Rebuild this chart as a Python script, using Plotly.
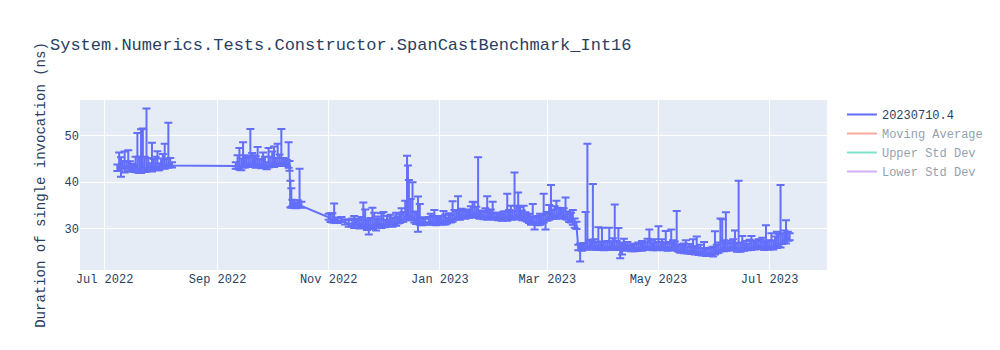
import plotly.graph_objects as go

# ---------------- data ----------------
dates_a = ["2022-07-08","2022-07-09","2022-07-10","2022-07-11","2022-07-12","2022-07-13","2022-07-14","2022-07-15",
           "2022-07-16","2022-07-17","2022-07-18","2022-07-19","2022-07-20","2022-07-21","2022-07-22","2022-07-23",
           "2022-07-24","2022-07-25","2022-07-26","2022-07-27","2022-07-28","2022-07-29","2022-07-30","2022-07-31",
           "2022-08-01","2022-08-02","2022-08-03","2022-08-04","2022-08-05","2022-08-06","2022-08-07"]
vals_a = [43.0,43.2,42.9,43.4,43.1,43.6,43.3,43.0,43.2,42.8,43.5,43.0,42.6,42.8,43.4,42.9,
          43.1,43.5,43.2,43.0,43.6,43.3,43.4,43.1,43.8,43.5,43.6,43.9,43.7,44.0,43.6]
up_a = [0.8,3.2,2.5,1.2,3.5,0.9,3.6,1.5,0.8,0.9,2.0,7.6,2.9,8.6,8.2,2.6,
        12.8,1.7,0.9,5.5,1.4,2.2,3.3,1.0,1.3,2.6,4.7,1.1,9.1,1.2,0.7]
dn_a = [0.6,0.8,1.7,0.5,1.0,0.6,0.9,0.7,0.5,0.6,0.8,0.9,0.6,0.8,1.2,0.7,
        0.8,0.9,0.6,0.7,0.6,0.5,0.8,0.5,0.6,0.5,0.7,0.6,0.6,0.5,0.4]

dates_b = ["2022-09-11","2022-09-12","2022-09-13","2022-09-14","2022-09-15","2022-09-16","2022-09-17","2022-09-18",
           "2022-09-19","2022-09-20","2022-09-21","2022-09-22","2022-09-23","2022-09-24","2022-09-25","2022-09-26",
           "2022-09-27","2022-09-28","2022-09-29","2022-09-30","2022-10-01","2022-10-02","2022-10-03","2022-10-04",
           "2022-10-05","2022-10-06","2022-10-07","2022-10-08","2022-10-09","2022-10-10","2022-10-10 12:00"]
vals_b = [43.5,43.8,43.3,43.6,43.9,43.7,44.0,43.8,44.1,43.9,44.2,43.7,44.0,43.9,43.5,43.8,
          43.6,43.4,43.7,43.9,44.1,43.8,44.0,44.2,44.0,44.3,44.1,44.2,44.0,43.8,44.0]
up_b = [0.8,2.0,4.1,1.5,4.7,2.1,1.3,1.8,7.4,2.4,1.6,1.9,3.6,1.1,1.4,2.6,
        1.9,0.9,3.7,1.6,2.5,3.9,1.2,4.1,2.0,7.2,1.1,0.9,0.8,4.8,0.6]
dn_b = [0.6,0.9,0.6,1.0,0.7,0.5,0.6,0.5,0.6,0.6,0.5,0.6,0.7,0.4,0.5,0.6,
        0.5,0.6,0.5,0.4,0.6,0.5,0.5,0.6,0.4,0.5,0.6,0.5,0.5,0.7,1.5]

dates_c = ["2022-10-11","2022-10-11 12:00","2022-10-12","2022-10-13","2022-10-14","2022-10-15","2022-10-16","2022-10-17"]
vals_c = [35.2,35.0,35.4,35.1,34.9,35.2,35.3,34.9]
up_c = [5.1,3.7,0.8,1.0,0.7,0.9,7.6,0.9]
dn_c = [0.6,0.5,0.6,0.6,0.5,0.5,0.7,0.4]

dates_nov = ["2022-11-01","2022-11-02","2022-11-03","2022-11-04","2022-11-05","2022-11-06","2022-11-08","2022-11-10",
             "2022-11-12","2022-11-14","2022-11-15","2022-11-16","2022-11-17","2022-11-18","2022-11-19","2022-11-20",
             "2022-11-21","2022-11-22","2022-11-23","2022-11-24","2022-11-25","2022-11-26","2022-11-27","2022-11-28",
             "2022-11-29","2022-11-30"]
vals_nov = [32.4,32.0,31.8,31.9,31.6,31.7,31.8,31.4,31.0,31.2,30.8,31.1,30.7,31.0,30.9,31.2,
            30.8,30.6,30.9,30.5,30.8,31.0,30.6,30.9,31.2,30.7]
up_nov = [0.8,1.3,1.5,3.5,0.8,0.6,0.7,0.6,0.8,1.0,1.9,0.9,1.4,0.8,1.6,4.4,
          3.3,1.2,1.1,1.8,3.7,2.4,1.5,1.7,0.9,2.6]
dn_nov = [0.5,0.6,0.5,0.6,0.4,0.5,0.4,0.5,0.6,0.5,0.7,0.5,0.6,1.0,0.5,0.6,
          0.7,0.9,2.2,0.6,0.8,0.7,1.0,0.6,0.5,0.6]

dates_dec = ["2022-12-01","2022-12-02","2022-12-03","2022-12-04","2022-12-05","2022-12-06","2022-12-07","2022-12-08",
             "2022-12-09","2022-12-10","2022-12-11","2022-12-12","2022-12-13","2022-12-14","2022-12-14 12:00","2022-12-15",
             "2022-12-16","2022-12-17","2022-12-18","2022-12-19","2022-12-20","2022-12-21","2022-12-22","2022-12-23",
             "2022-12-24","2022-12-26","2022-12-27","2022-12-28","2022-12-29","2022-12-30","2022-12-31"]
vals_dec = [31.0,30.8,31.3,31.0,31.4,31.1,31.5,31.2,31.6,31.8,32.2,32.0,32.6,32.8,33.0,32.5,
            32.9,32.4,31.9,31.5,31.6,31.4,31.2,31.5,31.3,31.4,31.6,31.3,31.5,31.2,31.6]
up_dec = [2.6,1.1,1.4,0.8,1.6,1.2,0.9,2.2,1.0,1.3,2.2,1.6,3.4,12.9,10.6,8.0,
          3.5,7.6,1.8,2.0,5.3,3.9,1.2,0.9,0.8,1.1,1.6,1.4,2.5,1.0,0.9]
dn_dec = [0.6,0.5,0.6,0.5,0.4,0.7,0.5,0.6,0.5,0.6,0.7,0.5,0.6,0.8,0.6,0.7,
          0.6,0.6,0.6,0.5,2.3,0.6,0.5,0.6,0.5,0.5,0.6,0.5,0.6,0.5,0.4]

dates_jan = ["2023-01-01","2023-01-02","2023-01-03","2023-01-04","2023-01-05","2023-01-06","2023-01-07","2023-01-08",
             "2023-01-09","2023-01-10","2023-01-11","2023-01-12","2023-01-13","2023-01-14","2023-01-15","2023-01-16",
             "2023-01-17","2023-01-18","2023-01-19","2023-01-20","2023-01-21","2023-01-22","2023-01-23","2023-01-24",
             "2023-01-25","2023-01-26","2023-01-27","2023-01-28","2023-01-29","2023-01-30","2023-01-31"]
vals_jan = [31.4,31.7,31.5,31.8,31.6,32.0,31.9,32.1,32.4,32.6,32.7,32.5,32.9,33.0,32.6,33.2,
            32.8,33.1,33.3,32.9,33.2,33.0,32.7,32.9,32.6,32.8,32.5,32.9,32.7,32.6,32.4]
up_jan = [1.3,1.0,2.3,1.2,0.8,1.3,1.1,3.8,1.6,1.2,4.3,1.5,1.4,1.0,1.1,0.9,
          1.2,1.7,2.5,2.8,1.5,12.4,1.2,0.9,1.0,1.6,4.5,1.1,1.4,3.2,0.9]
dn_jan = [0.5,0.6,0.6,0.9,0.5,0.6,0.6,0.6,0.5,0.6,0.7,0.6,0.5,0.6,0.5,0.6,
          0.5,0.6,0.6,0.5,0.6,0.7,0.6,0.5,0.6,0.5,0.6,0.5,0.6,0.5,0.5]

dates_feb = ["2023-02-01","2023-02-02","2023-02-03","2023-02-04","2023-02-05","2023-02-06","2023-02-07","2023-02-08",
             "2023-02-09","2023-02-10","2023-02-11","2023-02-12","2023-02-13","2023-02-14","2023-02-15","2023-02-16",
             "2023-02-17","2023-02-18","2023-02-19","2023-02-20","2023-02-21","2023-02-22","2023-02-23","2023-02-24",
             "2023-02-25","2023-02-26","2023-02-27","2023-02-28"]
vals_feb = [32.6,32.3,32.5,32.2,32.4,32.6,32.3,32.5,32.8,32.4,32.7,32.9,32.6,32.8,32.4,32.6,
            32.3,32.0,31.8,31.5,31.6,31.3,31.5,31.2,31.4,31.6,31.9,31.6]
up_feb = [0.8,1.1,0.7,0.9,1.3,1.1,5.2,1.5,2.1,1.4,9.4,2.0,5.2,1.8,1.5,2.3,
          1.2,1.0,1.4,1.1,3.7,1.2,0.9,1.5,1.8,1.3,5.6,1.6]
dn_feb = [0.6,0.5,0.4,0.5,0.6,0.5,0.6,0.5,0.6,0.5,0.6,0.7,0.6,0.5,0.6,0.5,
          0.6,0.5,0.6,0.7,0.6,1.5,0.6,0.5,0.6,0.5,0.6,1.8]

dates_mar = ["2023-03-01","2023-03-02","2023-03-03","2023-03-04","2023-03-05","2023-03-06","2023-03-07","2023-03-08",
             "2023-03-09","2023-03-10","2023-03-11","2023-03-12","2023-03-13","2023-03-14","2023-03-15","2023-03-16",
             "2023-03-17","2023-03-18","2023-03-19","2023-03-20","2023-03-21","2023-03-22","2023-03-23","2023-03-24",
             "2023-03-25","2023-03-26","2023-03-27","2023-03-28","2023-03-29","2023-03-30","2023-03-31"]
vals_mar = [32.2,32.5,32.8,32.6,33.0,32.7,33.1,32.8,33.2,32.9,32.6,32.4,32.0,31.8,31.4,31.0,
            30.6,25.8,26.0,25.7,26.1,26.3,26.2,26.0,26.4,26.1,26.3,26.0,26.4,26.2,26.0]
up_mar = [1.4,2.6,6.6,1.5,1.8,3.3,1.4,1.6,1.2,1.5,4.1,1.3,1.1,1.6,2.6,1.2,
          0.9,0.7,0.8,1.0,0.8,7.3,22.1,1.5,1.2,13.5,1.4,1.1,3.9,1.0,4.2]
dn_mar = [0.5,0.6,0.7,0.5,0.6,0.6,0.5,0.6,0.5,0.6,0.6,0.5,0.6,0.5,0.6,0.8,
          0.7,0.5,3.1,0.5,0.6,0.6,0.7,0.5,0.6,0.6,0.5,0.6,0.6,0.5,0.6]

dates_apr = ["2023-04-01","2023-04-02","2023-04-03","2023-04-04","2023-04-05","2023-04-06","2023-04-07","2023-04-08",
             "2023-04-09","2023-04-10","2023-04-11","2023-04-12","2023-04-13","2023-04-14","2023-04-15","2023-04-16",
             "2023-04-17","2023-04-18","2023-04-19","2023-04-20","2023-04-21","2023-04-22","2023-04-23","2023-04-24",
             "2023-04-25","2023-04-26","2023-04-27","2023-04-28","2023-04-29","2023-04-30"]
vals_apr = [25.8,26.1,25.9,26.2,26.0,26.3,26.1,25.9,26.2,25.8,25.9,26.0,25.7,26.1,25.8,25.5,
            25.8,25.6,25.9,25.7,26.0,25.8,26.1,25.9,26.2,25.9,26.1,25.8,26.0,25.8]
up_apr = [1.3,1.0,1.4,4.0,1.2,1.6,9.1,1.4,3.9,1.2,0.9,1.8,0.8,1.0,0.7,0.9,
          0.8,1.1,0.9,1.3,0.8,1.5,1.0,1.2,1.6,3.9,1.4,1.1,1.7,1.3]
dn_apr = [0.5,0.6,0.5,0.6,0.6,0.5,0.6,0.5,0.6,2.2,1.5,0.5,0.5,0.6,0.5,0.4,
          0.5,0.5,0.6,0.5,0.5,0.6,0.5,0.5,0.6,0.5,0.6,0.5,0.6,0.5]

dates_may = ["2023-05-01","2023-05-02","2023-05-03","2023-05-04","2023-05-05","2023-05-06","2023-05-07","2023-05-08",
             "2023-05-09","2023-05-10","2023-05-11","2023-05-12","2023-05-13","2023-05-14","2023-05-15","2023-05-16",
             "2023-05-17","2023-05-18","2023-05-19","2023-05-20","2023-05-21","2023-05-22","2023-05-23","2023-05-24",
             "2023-05-25","2023-05-26","2023-05-27","2023-05-28","2023-05-29","2023-05-30","2023-05-31"]
vals_may = [26.1,25.9,26.2,25.8,26.0,25.7,26.0,25.8,26.1,26.0,25.8,25.5,25.3,25.5,25.2,25.4,
            25.1,25.3,25.0,25.2,24.9,25.1,24.8,25.0,24.7,24.9,24.6,24.8,24.6,24.9,24.7]
up_may = [4.4,1.2,1.5,1.0,3.5,1.3,1.1,4.0,1.4,1.2,8.0,1.0,0.9,1.1,1.6,2.1,
          1.0,1.4,1.2,2.5,1.3,3.2,1.0,1.5,1.1,2.2,1.0,0.9,1.2,1.0,1.4]
dn_may = [0.6,0.5,0.6,0.5,0.6,0.5,0.6,0.5,0.6,0.5,0.6,0.5,0.5,0.6,0.5,0.6,
          0.5,0.6,0.5,0.6,0.5,0.6,0.5,0.6,0.5,0.6,0.5,0.6,0.5,0.6,0.7]

dates_jun = ["2023-06-01","2023-06-02","2023-06-03","2023-06-04","2023-06-05","2023-06-06","2023-06-07","2023-06-08",
             "2023-06-09","2023-06-10","2023-06-11","2023-06-12","2023-06-13","2023-06-14","2023-06-15","2023-06-16",
             "2023-06-17","2023-06-18","2023-06-19","2023-06-20","2023-06-21","2023-06-22","2023-06-23","2023-06-24",
             "2023-06-25","2023-06-26","2023-06-27","2023-06-28","2023-06-29","2023-06-30"]
vals_jun = [25.0,25.2,25.4,25.6,25.8,25.6,25.9,25.7,26.0,25.8,26.1,25.9,25.6,25.8,25.5,25.9,
            25.7,26.0,25.8,26.1,25.9,26.2,26.0,26.3,26.1,26.4,26.2,26.0,26.3,26.1]
up_jun = [4.4,1.3,1.6,6.6,6.2,1.9,7.6,1.2,1.4,1.1,1.6,3.7,1.3,14.5,1.5,2.5,
          1.1,1.3,0.9,1.5,2.5,1.2,1.4,1.0,1.6,1.2,1.8,1.1,4.4,1.3]
dn_jun = [0.6,0.5,0.6,0.5,0.6,0.5,0.6,0.5,0.6,0.5,0.6,0.5,0.6,0.7,0.5,0.6,
          0.5,0.6,0.5,0.6,0.5,0.6,0.5,0.6,0.5,0.6,0.5,0.6,0.5,0.6]

dates_jul = ["2023-07-01","2023-07-02","2023-07-03","2023-07-04","2023-07-05","2023-07-06","2023-07-07","2023-07-08",
             "2023-07-09","2023-07-10","2023-07-11","2023-07-12"]
vals_jul = [26.0,26.2,26.0,26.4,26.3,26.7,26.5,27.2,27.6,27.4,27.9,28.0]
up_jul = [1.5,2.8,1.4,1.9,3.0,2.2,12.9,1.8,2.0,4.4,1.4,1.0]
dn_jul = [0.5,0.6,0.5,0.6,0.5,0.6,0.6,0.5,0.6,0.6,0.5,0.5]

# hidden (legend-only) helper series, rough hand-read levels
ma_dates = ["2022-07-08","2022-08-07","2022-09-11","2022-10-10","2022-10-17","2022-11-01",
            "2022-12-15","2023-01-20","2023-03-15","2023-03-25","2023-05-20","2023-07-12"]
ma_vals = [43.2,43.4,43.6,44.0,37.0,32.0,31.8,32.8,32.3,27.5,25.4,26.6]
upper_vals = [46.0,46.5,46.3,46.8,41.5,34.0,35.5,35.8,34.8,33.0,27.8,30.0]
lower_vals = [40.4,40.3,40.9,41.2,32.5,30.0,28.1,29.8,29.8,22.0,23.0,23.2]

series_name = "20230710.4"
title_text = "System.Numerics.Tests.Constructor.SpanCastBenchmark_Int16"
y_title = "Duration of single invocation (ns)"

# ---------------- assemble ----------------
dates = (dates_a + dates_b + dates_c + dates_nov + dates_dec + dates_jan + dates_feb
         + dates_mar + dates_apr + dates_may + dates_jun + dates_jul)
vals = (vals_a + vals_b + vals_c + vals_nov + vals_dec + vals_jan + vals_feb
        + vals_mar + vals_apr + vals_may + vals_jun + vals_jul)
ups = (up_a + up_b + up_c + up_nov + up_dec + up_jan + up_feb
       + up_mar + up_apr + up_may + up_jun + up_jul)
dns = (dn_a + dn_b + dn_c + dn_nov + dn_dec + dn_jan + dn_feb
       + dn_mar + dn_apr + dn_may + dn_jun + dn_jul)

fig = go.Figure()
fig.add_trace(go.Scatter(
    x=dates, y=vals, mode="lines", name=series_name,
    error_y=dict(type="data", array=ups, arrayminus=dns, symmetric=False, visible=True),
))
fig.add_trace(go.Scatter(x=ma_dates, y=ma_vals, mode="lines", name="Moving Average", visible="legendonly"))
fig.add_trace(go.Scatter(x=ma_dates, y=upper_vals, mode="lines", name="Upper Std Dev", visible="legendonly"))
fig.add_trace(go.Scatter(x=ma_dates, y=lower_vals, mode="lines", name="Lower Std Dev", visible="legendonly"))

fig.update_layout(
    width=1000, height=350,
    font=dict(family="Courier New, monospace"),
    title=dict(text=title_text),
    yaxis=dict(title=dict(text=y_title)),
)

fig.write_html("out.html")
